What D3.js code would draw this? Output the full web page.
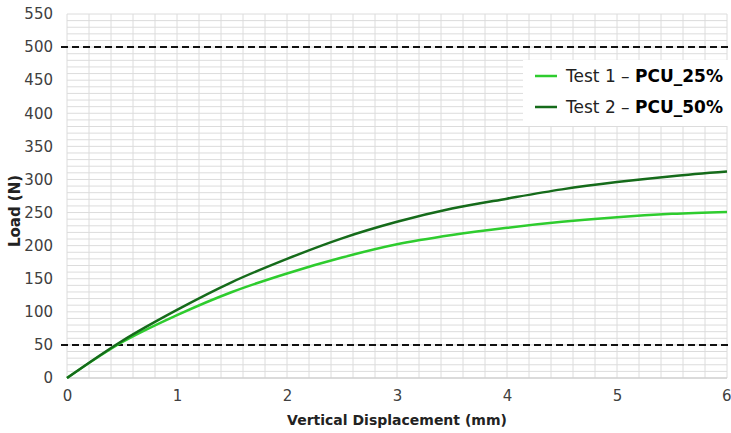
<!DOCTYPE html>
<html>
<head>
<meta charset="utf-8">
<script src="https://cdn.jsdelivr.net/npm/d3@7"></script>
<style>
  body { margin: 0; background: #fff; }
  svg text { font-family: "DejaVu Sans", sans-serif; }
</style>
</head>
<body>
<div id="wrapper"></div>
<script>
// displacement (mm) and load (N)
const displacement = [0, 0.5, 1, 1.5, 2, 2.5, 3, 3.5, 4, 4.5, 5, 5.5, 6]
const test1Load = [0, 54, 95, 130, 158, 182, 202, 216, 227, 236, 243, 248, 251]
const test2Load = [0, 56, 103, 145, 180, 211, 236, 256, 271, 285, 296, 305, 312]
const seriesNames = [["Test 1 – ", "PCU_25%"], ["Test 2 – ", "PCU_50%"]]
const seriesColors = ["#2ecc2e", "#156b1a"]
const limitLines = [50, 500]
const xTicks = [0, 1, 2, 3, 4, 5, 6]
const yTicks = d3.range(0, 551, 50)

function drawChart() {
  let dimensions = {
    width: 731,
    height: 433,
    margin: { top: 14, right: 4, bottom: 55, left: 67 },
  }
  dimensions.boundedWidth = dimensions.width - dimensions.margin.left - dimensions.margin.right
  dimensions.boundedHeight = dimensions.height - dimensions.margin.top - dimensions.margin.bottom

  const wrapper = d3.select("#wrapper")
    .append("svg")
    .attr("width", dimensions.width)
    .attr("height", dimensions.height)

  const bounds = wrapper.append("g")
    .attr("transform", `translate(${dimensions.margin.left},${dimensions.margin.top})`)

  const xScaler = d3.scaleLinear()
    .domain([0, 6])
    .range([0, dimensions.boundedWidth])

  const yScaler = d3.scaleLinear()
    .domain([0, 550])
    .range([dimensions.boundedHeight, 0])

  // grid
  bounds.append("g")
    .selectAll("line")
    .data(d3.range(0, 6.001, 0.2))
    .join("line")
    .attr("x1", d => xScaler(d))
    .attr("x2", d => xScaler(d))
    .attr("y1", 0)
    .attr("y2", dimensions.boundedHeight)
    .attr("stroke", "#dcdcdc")
    .attr("stroke-width", 1)

  bounds.append("g")
    .selectAll("line")
    .data(d3.range(0, 551, 10))
    .join("line")
    .attr("x1", 0)
    .attr("x2", dimensions.boundedWidth)
    .attr("y1", d => yScaler(d))
    .attr("y2", d => yScaler(d))
    .attr("stroke", "#dcdcdc")
    .attr("stroke-width", 1)

  bounds.append("line")
    .attr("x1", 0)
    .attr("x2", dimensions.boundedWidth)
    .attr("y1", dimensions.boundedHeight)
    .attr("y2", dimensions.boundedHeight)
    .attr("stroke", "#c8c8c8")

  // axes
  const xAxisGenerator = d3.axisBottom(xScaler)
    .tickValues(xTicks)
    .tickFormat(d3.format("d"))
    .tickSize(0)
    .tickPadding(12)
  const xAxis = bounds.append("g")
    .attr("transform", `translate(0,${dimensions.boundedHeight})`)
    .call(xAxisGenerator)
  xAxis.select(".domain").remove()
  xAxis.selectAll("text")
    .attr("font-size", 15)
    .attr("fill", "#404040")
    .style("font-family", "DejaVu Sans, sans-serif")
  // last label sits on the right edge, keep it inside the picture
  xAxis.selectAll("text").filter(d => d === 6).attr("text-anchor", "end").attr("dx", 4)

  const yAxisGenerator = d3.axisLeft(yScaler)
    .tickValues(yTicks)
    .tickSize(0)
    .tickPadding(14)
  const yAxis = bounds.append("g").call(yAxisGenerator)
  yAxis.select(".domain").remove()
  yAxis.selectAll("text")
    .attr("font-size", 15)
    .attr("fill", "#404040")
    .style("font-family", "DejaVu Sans, sans-serif")

  // dashed limits
  bounds.append("g")
    .selectAll("line")
    .data(limitLines)
    .join("line")
    .attr("x1", -6)
    .attr("x2", dimensions.boundedWidth + 4)
    .attr("y1", d => yScaler(d))
    .attr("y2", d => yScaler(d))
    .attr("stroke", "#111")
    .attr("stroke-width", 2)
    .attr("stroke-dasharray", "7,4")

  // curves
  const lineGenerator = d3.line()
    .x(d => xScaler(d[0]))
    .y(d => yScaler(d[1]))
    .curve(d3.curveMonotoneX)

  const seriesData = [test1Load, test2Load].map(vals => displacement.map((x, i) => [x, vals[i]]))
  bounds.append("g")
    .selectAll("path")
    .data(seriesData)
    .join("path")
    .attr("d", lineGenerator)
    .attr("fill", "none")
    .attr("stroke", (d, i) => seriesColors[i])
    .attr("stroke-width", 2.5)

  // legend
  const legend = wrapper.append("g")
  legend.append("rect")
    .attr("x", 523)
    .attr("y", 60)
    .attr("width", 210)
    .attr("height", 66)
    .attr("fill", "#fff")
  seriesNames.forEach((name, i) => {
    const y = 76 + i * 31
    legend.append("line")
      .attr("x1", 535)
      .attr("x2", 557)
      .attr("y1", y)
      .attr("y2", y)
      .attr("stroke", seriesColors[i])
      .attr("stroke-width", 2.5)
    const t = legend.append("text")
      .attr("x", 566)
      .attr("y", y + 6)
      .attr("font-size", 17)
      .attr("fill", "#222")
    t.append("tspan").text(name[0])
    t.append("tspan").attr("font-weight", "bold").attr("fill", "#000").text(name[1])
  })

  // axis labels
  wrapper.append("text")
    .attr("x", dimensions.margin.left + xScaler(3))
    .attr("y", 425)
    .attr("text-anchor", "middle")
    .attr("font-size", 14)
    .attr("font-weight", "bold")
    .attr("fill", "#222")
    .text("Vertical Displacement (mm)")

  wrapper.append("text")
    .attr("transform", `translate(20,${dimensions.margin.top + dimensions.boundedHeight / 2 + 15}) rotate(-90)`)
    .attr("text-anchor", "middle")
    .attr("font-size", 15)
    .attr("font-weight", "bold")
    .attr("fill", "#222")
    .text("Load (N)")
}
drawChart()
</script>
</body>
</html>
